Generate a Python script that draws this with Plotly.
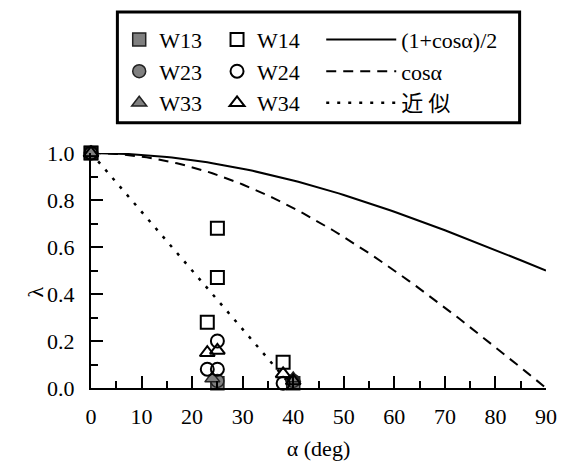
import numpy as np
import plotly.graph_objects as go

# Measured reduction factor λ versus inclination angle α
w13_a = [0, 25, 40]
w13_l = [1.0, 0.02, 0.02]
w14_a = [0, 25, 25, 23, 38]
w14_l = [1.0, 0.68, 0.47, 0.28, 0.11]
w23_a = [0, 25, 40]
w23_l = [1.0, 0.03, 0.03]
w24_a = [0, 25, 23, 25, 38]
w24_l = [1.0, 0.20, 0.08, 0.08, 0.02]
w33_a = [0, 24, 40]
w33_l = [1.0, 0.04, 0.04]
w34_a = [0, 23, 25, 38, 40]
w34_l = [1.0, 0.15, 0.16, 0.06, 0.03]

# Reference curves
alpha_deg = np.arange(0, 91, 1)
approx_a = [0, 40]
approx_l = [1.0, 0.0]

SERIF = "Liberation Serif"
FS = 22
GRAY = "#808080"

fig = go.Figure()

rad = np.deg2rad(alpha_deg)
fig.add_trace(go.Scatter(x=alpha_deg, y=(1 + np.cos(rad)) / 2, mode="lines",
                         name="(1+cosα)/2", line=dict(color="black", width=2),
                         legend="legend3"))
fig.add_trace(go.Scatter(x=alpha_deg, y=np.cos(rad), mode="lines",
                         name="cosα", line=dict(color="black", width=2, dash="10px,7px"),
                         legend="legend3"))
fig.add_trace(go.Scatter(x=approx_a, y=approx_l, mode="lines",
                         name="<span style='font-family:Noto Sans CJK JP'>近 似</span>",
                         line=dict(color="black", width=2.5, dash="3px,8px"),
                         legend="legend3"))

def filled(name, xs, ys, symbol):
    return go.Scatter(x=xs, y=ys, mode="markers", name=name, legend="legend",
                      cliponaxis=False,
                      marker=dict(symbol=symbol, size=13, color=GRAY,
                                  line=dict(color="#222222", width=1.5)))

def hollow(name, xs, ys, symbol):
    return go.Scatter(x=xs, y=ys, mode="markers", name=name, legend="legend2",
                      cliponaxis=False,
                      marker=dict(symbol=symbol + "-open", size=13, color="black",
                                  line=dict(color="black", width=2)))

fig.add_trace(filled("W13", w13_a, w13_l, "square"))
fig.add_trace(filled("W23", w23_a, w23_l, "circle"))
fig.add_trace(filled("W33", w33_a, w33_l, "triangle-up"))
fig.add_trace(hollow("W14", w14_a, w14_l, "square"))
fig.add_trace(hollow("W24", w24_a, w24_l, "circle"))
fig.add_trace(hollow("W34", w34_a, w34_l, "triangle-up"))

legend_common = dict(orientation="v", xanchor="left", yanchor="top",
                     bgcolor="rgba(0,0,0,0)", borderwidth=0,
                     font=dict(family=SERIF, size=FS, color="black"),
                     tracegroupgap=0)

fig.update_layout(
    width=569, height=469,
    margin=dict(l=91, r=12, t=153, b=76),
    paper_bgcolor="white", plot_bgcolor="white",
    font=dict(family=SERIF, size=FS, color="black"),
    legend=dict(x=0.062, y=1.571, **legend_common),
    legend2=dict(x=0.277, y=1.571, **legend_common),
    legend3=dict(x=0.506, y=1.571, itemwidth=70, **legend_common),
    xaxis=dict(range=[0, 90], tickvals=list(range(0, 91, 10)),
               showline=True, linecolor="black", linewidth=2,
               ticks="inside", ticklen=12, tickwidth=2, tickcolor="black",
               minor=dict(dtick=5, ticks="inside", ticklen=7, tickwidth=2, tickcolor="black"),
               showgrid=False, zeroline=False, ticklabelstandoff=8,
               title=dict(text="α (deg)", standoff=12,
                          font=dict(family=SERIF, size=FS))),
    yaxis=dict(range=[0, 1], tickvals=[0, 0.2, 0.4, 0.6, 0.8, 1.0], tickformat=".1f",
               showline=True, linecolor="black", linewidth=2,
               ticks="inside", ticklen=12, tickwidth=2, tickcolor="black",
               minor=dict(dtick=0.1, ticks="inside", ticklen=7, tickwidth=2, tickcolor="black"),
               showgrid=False, zeroline=False, ticklabelstandoff=10),
    shapes=[dict(type="rect", xref="paper", yref="paper",
                 x0=0.058, x1=0.942, y0=1.129, y1=1.6,
                 line=dict(color="black", width=3))],
    annotations=[dict(text="λ", xref="paper", yref="y", x=-0.153, y=0.41,
                      showarrow=False, textangle=-90,
                      font=dict(family=SERIF, size=FS))],
)

fig.write_html("out.html")
